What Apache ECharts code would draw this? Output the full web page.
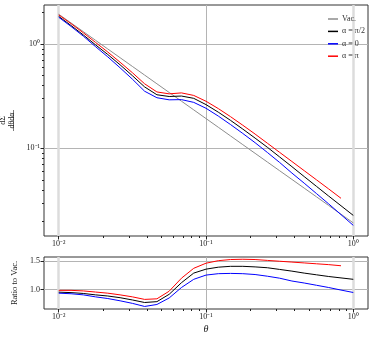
<!DOCTYPE html>
<html>
<head>
<meta charset="utf-8">
<script src="https://cdn.jsdelivr.net/npm/echarts@6/dist/echarts.min.js"></script>
<style>html,body{margin:0;padding:0;background:#fff}#chart{width:374px;height:338px}</style>
</head>
<body>
<div id="chart"></div>
<script>
// log-spaced theta samples
var theta = [0.01, 0.01212, 0.01468, 0.01778, 0.02154, 0.0261, 0.03162, 0.03831, 0.04642, 0.05623, 0.06813, 0.08254,
  0.1, 0.1212, 0.1468, 0.1778, 0.2154, 0.261, 0.3162, 0.3831, 0.4642, 0.5623, 0.6813, 0.8254, 1.0];

var vac = [1.93, 1.593, 1.315, 1.085, 0.896, 0.7394, 0.6103, 0.5038, 0.4158, 0.3432, 0.2833, 0.2338,
  0.193, 0.1593, 0.1315, 0.1085, 0.0896, 0.07394, 0.06103, 0.05038, 0.04158, 0.03432, 0.02833, 0.02338, 0.0193];
var alphaHalfPi = [1.839, 1.505, 1.223, 0.9819, 0.793, 0.6322, 0.4974, 0.3879, 0.3264, 0.314, 0.3173, 0.3016,
  0.2625, 0.2222, 0.1854, 0.153, 0.1254, 0.1024, 0.0827, 0.06675, 0.05364, 0.04324, 0.03485, 0.02817, 0.02277];
var alphaZero = [1.805, 1.474, 1.19, 0.944, 0.7526, 0.5915, 0.4608, 0.3527, 0.3056, 0.2917, 0.2932, 0.2759,
  0.2422, 0.2039, 0.169, 0.1389, 0.1133, 0.09132, 0.07324, 0.05794, 0.04636, 0.03689, 0.02932, 0.02315, 0.01828];
var alphaPi = [1.901, 1.569, 1.282, 1.036, 0.8378, 0.6692, 0.531, 0.4156, 0.3472, 0.3329, 0.34, 0.3215,
  0.2827, 0.2405, 0.2012, 0.1665, 0.1371, 0.112, 0.09155, 0.07481, 0.06112, 0.04994, 0.0408, 0.0332];

// ratio to vacuum (lower panel)
var ratioHalfPi = [0.953, 0.945, 0.93, 0.905, 0.885, 0.855, 0.815, 0.77, 0.785, 0.915, 1.12, 1.29,
  1.36, 1.395, 1.41, 1.41, 1.4, 1.385, 1.355, 1.325, 1.29, 1.26, 1.23, 1.205, 1.18];
var ratioZero = [0.935, 0.925, 0.905, 0.87, 0.84, 0.8, 0.755, 0.7, 0.735, 0.85, 1.035, 1.18,
  1.255, 1.28, 1.285, 1.28, 1.265, 1.235, 1.2, 1.15, 1.115, 1.075, 1.035, 0.99, 0.947];
var ratioPi = [0.985, 0.985, 0.975, 0.955, 0.935, 0.905, 0.87, 0.825, 0.835, 0.97, 1.2, 1.375,
  1.465, 1.51, 1.53, 1.535, 1.53, 1.515, 1.5, 1.485, 1.47, 1.455, 1.44, 1.42];

var xMajor = [0.01, 0.1, 1];
var xMinor = [0.02, 0.03, 0.04, 0.05, 0.06, 0.07, 0.08, 0.09, 0.2, 0.3, 0.4, 0.5, 0.6, 0.7, 0.8, 0.9];
var yMajor = [0.1, 1];
var yMinor = [0.02, 0.03, 0.04, 0.05, 0.06, 0.07, 0.08, 0.09, 0.2, 0.3, 0.4, 0.5, 0.6, 0.7, 0.8, 0.9, 2];
var ratioTicks = [1.0, 1.5];
var powLabels = { '0.01': '10⁻²', '0.1': '10⁻¹', '1': '10⁰' };

var names = ['Vac.', 'α = π/2', 'α = 0', 'α = π'];
var colors = ['#8c8c8c', '#000000', '#0000ff', '#ff0000'];
var serif = 'Liberation Serif';

function pairs(ys) {
  return ys.map(function (y, i) { return [theta[i], y]; });
}

var chart = echarts.init(document.getElementById('chart'), null, { renderer: 'canvas' });

function majorX(grid) {
  return {
    type: 'log', gridIndex: grid, position: 'bottom',
    min: 0.007943, max: 1.2589,
    axisLine: { show: false },
    axisTick: { customValues: xMajor, length: 3.5, lineStyle: { color: '#222' } },
    axisLabel: {
      customValues: xMajor, margin: 4, color: '#222', fontFamily: serif, fontSize: 8,
      formatter: function (v) { return powLabels[String(+v.toPrecision(3))] || ''; }
    },
    splitLine: { show: true, lineStyle: { color: ['#b4b4b4'], width: 1 } }
  };
}
function minorX(grid) {
  return {
    type: 'log', gridIndex: grid, position: 'bottom',
    min: 0.007943, max: 1.2589,
    axisLine: { show: false },
    axisTick: { customValues: xMinor, length: 2, lineStyle: { color: '#222' } },
    axisLabel: { show: false },
    splitLine: { show: false }
  };
}

var option = {
  animation: false,
  color: colors,
  textStyle: { fontFamily: serif },
  grid: [
    { left: 44, top: 5, width: 324, height: 231, show: true, borderColor: '#333', borderWidth: 1, outerBoundsMode: 'none', containLabel: false },
    { left: 44, top: 257, width: 324, height: 52, show: true, borderColor: '#333', borderWidth: 1, outerBoundsMode: 'none', containLabel: false }
  ],
  legend: {
    data: names,
    orient: 'vertical',
    left: 323, top: 9,
    itemWidth: 10, itemHeight: 1.5, itemGap: 2.4,
    icon: 'rect',
    textStyle: { fontFamily: serif, fontSize: 8, color: '#333', lineHeight: 10, padding: [0, 0, 0, -1] }
  },
  xAxis: [
    majorX(0), minorX(0),
    Object.assign(majorX(1), {
      name: 'θ', nameLocation: 'middle', nameGap: 15,
      nameTextStyle: { fontFamily: serif, fontStyle: 'italic', fontSize: 10, color: '#222' }
    }),
    minorX(1)
  ],
  yAxis: [
    {
      type: 'log', gridIndex: 0, position: 'left', min: 0.01445, max: 2.366,
      axisLine: { show: false },
      axisTick: { customValues: yMajor, length: 3.5, lineStyle: { color: '#222' } },
      axisLabel: {
        customValues: yMajor, margin: 4, color: '#222', fontFamily: serif, fontSize: 8,
        formatter: function (v) { return powLabels[String(+v.toPrecision(3))] || ''; }
      },
      splitLine: { show: true, lineStyle: { color: '#b4b4b4', width: 1 } },
      name: '{n|dΣ}\n{d|dθdα}', nameLocation: 'middle', nameGap: 26, nameRotate: 90,
      nameTextStyle: {
        color: '#222', fontFamily: serif, align: 'center',
        rich: {
          n: { fontSize: 8, lineHeight: 8.5, fontFamily: serif, align: 'center' },
          d: { fontSize: 8, lineHeight: 8.5, fontFamily: serif, align: 'center' }
        }
      }
    },
    {
      type: 'log', gridIndex: 0, position: 'left', min: 0.01445, max: 2.366,
      axisLine: { show: false },
      axisTick: { customValues: yMinor, length: 2, lineStyle: { color: '#222' } },
      axisLabel: { show: false },
      splitLine: { show: false }
    },
    {
      type: 'value', gridIndex: 1, position: 'left', min: 0.655, max: 1.575,
      axisLine: { show: false },
      axisTick: { customValues: ratioTicks, length: 3.5, lineStyle: { color: '#222' } },
      axisLabel: {
        customValues: ratioTicks, margin: 4, color: '#222', fontFamily: serif, fontSize: 8,
        formatter: function (v) { return v.toFixed(1); }
      },
      splitLine: { show: true, lineStyle: { color: '#b4b4b4', width: 1 } },
      name: 'Ratio to Vac.', nameLocation: 'middle', nameGap: 17, nameRotate: 90,
      nameTextStyle: { color: '#222', fontFamily: serif, fontSize: 8.5 }
    }
  ],
  graphic: [
    { type: 'line', shape: { x1: 13.5, y1: 110, x2: 13.5, y2: 131 }, style: { stroke: '#222', lineWidth: 0.6 } }
  ],
  series: [
    {
      name: names[0], type: 'line', xAxisIndex: 0, yAxisIndex: 0, data: pairs(vac),
      symbol: 'none', lineStyle: { width: 1, color: colors[0] }, z: 2,
      markLine: {
        silent: true, symbol: 'none', label: { show: false }, z: 1,
        lineStyle: { color: '#dcdcdc', width: 2.5, type: 'solid' },
        data: [{ xAxis: 0.01 }, { xAxis: 1 }]
      }
    },
    { name: names[1], type: 'line', xAxisIndex: 0, yAxisIndex: 0, data: pairs(alphaHalfPi), symbol: 'none', lineStyle: { width: 1, color: colors[1] } },
    { name: names[2], type: 'line', xAxisIndex: 0, yAxisIndex: 0, data: pairs(alphaZero), symbol: 'none', lineStyle: { width: 1, color: colors[2] } },
    { name: names[3], type: 'line', xAxisIndex: 0, yAxisIndex: 0, data: pairs(alphaPi), symbol: 'none', lineStyle: { width: 1, color: colors[3] } },
    {
      name: names[1], type: 'line', xAxisIndex: 2, yAxisIndex: 2, data: pairs(ratioHalfPi), symbol: 'none', lineStyle: { width: 1, color: colors[1] },
      markLine: {
        silent: true, symbol: 'none', label: { show: false }, z: 1,
        lineStyle: { color: '#dcdcdc', width: 2.5, type: 'solid' },
        data: [{ xAxis: 0.01 }, { xAxis: 1 }]
      }
    },
    { name: names[2], type: 'line', xAxisIndex: 2, yAxisIndex: 2, data: pairs(ratioZero), symbol: 'none', lineStyle: { width: 1, color: colors[2] } },
    { name: names[3], type: 'line', xAxisIndex: 2, yAxisIndex: 2, data: pairs(ratioPi), symbol: 'none', lineStyle: { width: 1, color: colors[3] } }
  ]
};

chart.setOption(option);
</script>
</body>
</html>
